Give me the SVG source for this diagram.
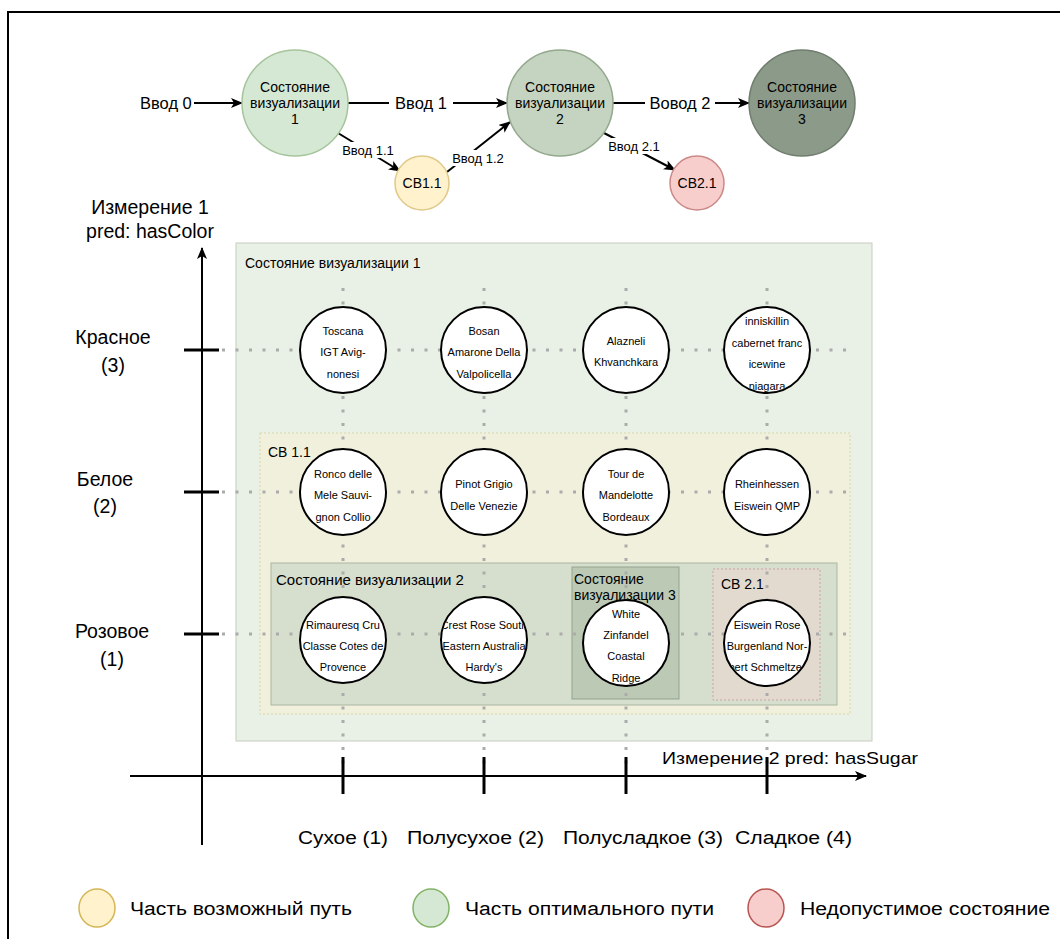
<svg xmlns="http://www.w3.org/2000/svg" width="1060" height="939" viewBox="0 0 1060 939">
<defs>
<marker id="arr" viewBox="0 0 12 10" refX="11" refY="5" markerWidth="12" markerHeight="10" markerUnits="userSpaceOnUse" orient="auto"><path d="M0,0 L12,5 L0,10 L3,5 z" fill="#000"/></marker>
<clipPath id="cB"><circle cx="484" cy="350" r="42"/></clipPath>
<clipPath id="cI"><circle cx="767" cy="350" r="42"/></clipPath>
<clipPath id="cC"><circle cx="484" cy="640" r="42"/></clipPath>
<clipPath id="cE"><circle cx="767" cy="643" r="42"/></clipPath>
<clipPath id="cW"><circle cx="626" cy="643" r="42"/></clipPath>
</defs>
<style>
text{font-family:"Liberation Sans",Arial,sans-serif;fill:#000}
.m{text-anchor:middle}
.s14{font-size:14px}
.s13{font-size:13px}
.s16{font-size:16.5px}
.s18{font-size:18px}
.s19{font-size:19.5px}
.w circle.f{fill:#fff;stroke:none}
.w circle.o{fill:none;stroke:#000;stroke-width:2}
.w text{font-size:11px;text-anchor:middle}
.dot{stroke:#ababab;stroke-width:3;stroke-dasharray:3 10.5;fill:none}
.edge{stroke:#000;stroke-width:2;fill:none;marker-end:url(#arr)}
.tick{stroke:#000;stroke-width:3}
.bg{fill:#fff}
</style>
<rect width="1060" height="939" fill="#fff"/>
<path d="M8,939 V12 H1060" fill="none" stroke="#000" stroke-width="2"/>

<g id="connectors">
<line class="edge" x1="194" y1="103" x2="242" y2="103"/>
<line class="edge" x1="348" y1="103" x2="507" y2="103"/>
<line class="edge" x1="613" y1="103" x2="749" y2="103"/>
<line class="edge" x1="338" y1="133" x2="400" y2="171"/>
<line class="edge" x1="447" y1="172" x2="510" y2="122"/>
<line class="edge" x1="604" y1="133" x2="675" y2="170"/>
<rect class="bg" x="389" y="92" width="64" height="22"/>
<rect class="bg" x="645" y="92" width="70" height="22"/>
<rect class="bg" x="338" y="142" width="59" height="16"/>
<rect class="bg" x="449" y="150" width="59" height="16"/>
<rect class="bg" x="604" y="138" width="59" height="16"/>
<text class="s16" x="140" y="109">Ввод 0</text>
<text class="s16 m" x="421" y="109">Ввод 1</text>
<text class="s16 m" x="680" y="109">Вовод 2</text>
<text class="s13 m" x="368" y="155">Ввод 1.1</text>
<text class="s13 m" x="478" y="163">Ввод 1.2</text>
<text class="s13 m" x="634" y="151">Ввод 2.1</text>
</g>

<g id="state1"><circle cx="295" cy="103" r="53" fill="#d5e8d4" stroke="#a6c49c" stroke-width="1.5"/>
<text class="s14 m" x="295" y="92">Состояние</text><text class="s14 m" x="295" y="108">визуализации</text><text class="s14 m" x="295" y="124">1</text></g>
<g id="state2"><circle cx="560" cy="103" r="53" fill="#c5d4c0" stroke="#93a88d" stroke-width="1.5"/>
<text class="s14 m" x="560" y="92">Состояние</text><text class="s14 m" x="560" y="108">визуализации</text><text class="s14 m" x="560" y="124">2</text></g>
<g id="state3"><circle cx="802" cy="103" r="53" fill="#8b9a89" stroke="#6f7e6d" stroke-width="1.5"/>
<text class="s14 m" x="802" y="92">Состояние</text><text class="s14 m" x="802" y="108">визуализации</text><text class="s14 m" x="802" y="124">3</text></g>
<g id="sv11"><circle cx="422" cy="183" r="27" fill="#fff2cc" stroke="#e0c98a" stroke-width="1.5"/><text class="s14 m" x="422" y="188">СВ1.1</text></g>
<g id="sv21"><circle cx="697" cy="183" r="27" fill="#f8cecc" stroke="#c98a88" stroke-width="1.5"/><text class="s14 m" x="697" y="188">СВ2.1</text></g>

<g id="box-state1"><rect x="236" y="243" width="636" height="498" fill="#e9f0e5" stroke="#c5cdc1"/><text class="s14" x="245" y="268">Состояние визуализации 1</text></g>
<g id="box-sv11"><rect x="260" y="433" width="590" height="281" fill="#f0f0dd" stroke="#d8d8a8" stroke-dasharray="2 2"/><text class="s14" x="268" y="457">СВ 1.1</text></g>
<g id="box-state2"><rect x="271" y="563" width="566" height="142" fill="#d6decd" stroke="#a9b6a1"/><text style="font-size:15px" x="276" y="585">Состояние визуализации 2</text></g>
<g id="box-state3"><rect x="572" y="567" width="107" height="132" fill="#bccab5" stroke="#94a38d"/><text class="s14" x="574" y="584">Состояние</text><text class="s14" x="574" y="600">визуализации 3</text></g>
<g id="box-sv21"><rect x="713" y="569" width="107" height="131" fill="#e2dace" stroke="#cfa3a3" stroke-dasharray="2 2"/><text class="s14" x="721" y="589">СВ 2.1</text></g>

<g id="grid">
<line class="dot" x1="343" y1="288" x2="343" y2="764"/>
<line class="dot" x1="484" y1="288" x2="484" y2="764"/>
<line class="dot" x1="626" y1="288" x2="626" y2="764"/>
<line class="dot" x1="767" y1="288" x2="767" y2="764"/>
<line class="dot" x1="222" y1="350" x2="850" y2="350"/>
<line class="dot" x1="222" y1="492" x2="850" y2="492"/>
<line class="dot" x1="222" y1="634" x2="850" y2="634"/>
</g>

<g id="axes">
<line x1="202" y1="845" x2="202" y2="248" stroke="#000" stroke-width="2" marker-end="url(#arr)"/>
<line x1="130" y1="776" x2="866" y2="776" stroke="#000" stroke-width="2" marker-end="url(#arr)"/>
<line class="tick" x1="184" y1="350" x2="219" y2="350"/>
<line class="tick" x1="184" y1="492" x2="219" y2="492"/>
<line class="tick" x1="184" y1="634" x2="219" y2="634"/>
<text class="s19 m" x="150" y="214">Измерение 1</text>
<text class="s19 m" x="150" y="238">pred: hasColor</text>
<text class="s19 m" x="113" y="344">Красное</text><text class="s19 m" x="113" y="372">(3)</text>
<text class="s19 m" x="105" y="486">Белое</text><text class="s19 m" x="105" y="513">(2)</text>
<text class="s19 m" x="112" y="638">Розовое</text><text class="s19 m" x="112" y="666">(1)</text>
<text style="font-size:17px" x="662" y="764" textLength="256" lengthAdjust="spacingAndGlyphs">Измерение 2 pred: hasSugar</text>
<line class="tick" x1="343" y1="757" x2="343" y2="794"/>
<line class="tick" x1="484" y1="757" x2="484" y2="794"/>
<line class="tick" x1="626" y1="757" x2="626" y2="794"/>
<line class="tick" x1="767" y1="757" x2="767" y2="794"/>
<text class="s18" x="298" y="844" textLength="90" lengthAdjust="spacingAndGlyphs">Сухое (1)</text>
<text class="s18" x="407" y="844" textLength="137" lengthAdjust="spacingAndGlyphs">Полусухое (2)</text>
<text class="s18" x="563" y="844" textLength="160" lengthAdjust="spacingAndGlyphs">Полусладкое (3)</text>
<text class="s18" x="735" y="844" textLength="117" lengthAdjust="spacingAndGlyphs">Сладкое (4)</text>
</g>

<g id="wine-toscana" class="w"><circle class="f" cx="343" cy="350" r="43"/><text x="343" y="335">Toscana</text><text x="343" y="356">IGT  Avig-</text><text x="343" y="378">nonesi</text><circle class="o" cx="343" cy="350" r="43"/></g>
<g id="wine-bosan" class="w"><circle class="f" cx="484" cy="350" r="43"/><g clip-path="url(#cB)"><text x="484" y="335">Bosan</text><text x="484" y="356">Amarone Della</text><text x="484" y="378">Valpolicella</text></g><circle class="o" cx="484" cy="350" r="43"/></g>
<g id="wine-alazneli" class="w"><circle class="f" cx="626" cy="350" r="43"/><text x="626" y="345">Alazneli</text><text x="626" y="366">Khvanchkara</text><circle class="o" cx="626" cy="350" r="43"/></g>
<g id="wine-inniskillin" class="w"><circle class="f" cx="767" cy="350" r="43"/><g clip-path="url(#cI)"><text x="767" y="325">inniskillin</text><text x="767" y="347">cabernet franc</text><text x="767" y="368">icewine</text><text x="767" y="390">niagara</text></g><circle class="o" cx="767" cy="350" r="43"/></g>

<g id="wine-ronco" class="w"><circle class="f" cx="343" cy="492" r="43"/><text x="343" y="478">Ronco delle</text><text x="343" y="499">Mele Sauvi-</text><text x="343" y="521">gnon Collio</text><circle class="o" cx="343" cy="492" r="43"/></g>
<g id="wine-pinot" class="w"><circle class="f" cx="484" cy="492" r="43"/><text x="484" y="488">Pinot Grigio</text><text x="484" y="510">Delle Venezie</text><circle class="o" cx="484" cy="492" r="43"/></g>
<g id="wine-tour" class="w"><circle class="f" cx="626" cy="492" r="43"/><text x="626" y="478">Tour de</text><text x="626" y="499">Mandelotte</text><text x="626" y="521">Bordeaux</text><circle class="o" cx="626" cy="492" r="43"/></g>
<g id="wine-rheinhessen" class="w"><circle class="f" cx="767" cy="492" r="43"/><text x="767" y="488">Rheinhessen</text><text x="767" y="510">Eiswein QMP</text><circle class="o" cx="767" cy="492" r="43"/></g>

<g id="wine-rimauresq" class="w"><circle class="f" cx="343" cy="640" r="43"/><text x="343" y="629">Rimauresq Cru</text><text x="343" y="650">Classe Cotes de</text><text x="343" y="671">Provence</text><circle class="o" cx="343" cy="640" r="43"/></g>
<g id="wine-crest" class="w"><circle class="f" cx="484" cy="640" r="43"/><g clip-path="url(#cC)"><text x="484" y="629">Crest Rose South</text><text x="484" y="650">Eastern Australia</text><text x="484" y="671">Hardy's</text></g><circle class="o" cx="484" cy="640" r="43"/></g>
<g id="wine-white" class="w"><circle class="f" cx="626" cy="643" r="43"/><g clip-path="url(#cW)"><text x="626" y="618">White</text><text x="626" y="639">Zinfandel</text><text x="626" y="660">Coastal</text><text x="626" y="682">Ridge</text></g><circle class="o" cx="626" cy="643" r="43"/></g>
<g id="wine-eiswein" class="w"><circle class="f" cx="767" cy="643" r="43"/><g clip-path="url(#cE)"><text x="767" y="629">Eiswein Rose</text><text x="767" y="650">Burgenland Nor-</text><text x="767" y="671">bert Schmeltzer</text></g><circle class="o" cx="767" cy="643" r="43"/></g>

<g id="legend">
<ellipse cx="97" cy="908" rx="18" ry="19" fill="#fff2cc" stroke="#d6b656" stroke-width="1.5"/>
<text class="s18" x="130" y="915" textLength="222" lengthAdjust="spacingAndGlyphs">Часть возможный путь</text>
<ellipse cx="431" cy="908" rx="18" ry="19" fill="#d5e8d4" stroke="#82b366" stroke-width="1.5"/>
<text class="s18" x="465" y="915" textLength="249" lengthAdjust="spacingAndGlyphs">Часть оптимального пути</text>
<ellipse cx="766" cy="908" rx="18" ry="19" fill="#f8cecc" stroke="#b85450" stroke-width="1.5"/>
<text class="s18" x="800" y="915" textLength="250" lengthAdjust="spacingAndGlyphs">Недопустимое состояние</text>
</g>
</svg>
